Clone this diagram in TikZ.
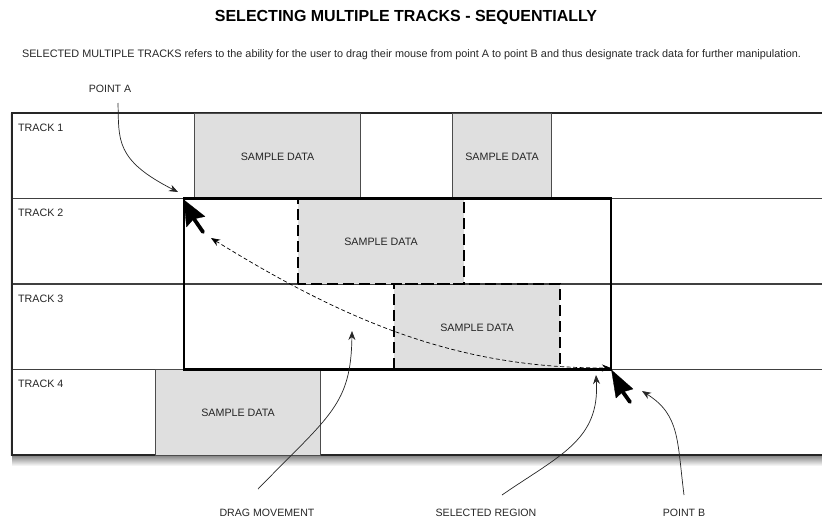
\documentclass[tikz,border=0pt]{standalone}
\usepackage{fontspec}
\setmainfont{Liberation Sans}
\usetikzlibrary{arrows.meta,shadings}
\definecolor{datagray}{HTML}{DFDFDF}
\tikzset{
  x=1pt,y=-1pt,
  lane/.style={draw=black!75,line width=0.9pt,minimum width=810pt,minimum height=85.5pt,anchor=north west,inner sep=0pt,outer sep=0pt,fill=white},
  tracklabel/.style={anchor=west,font=\fontsize{10.7}{12}\selectfont,inner sep=0pt,text=black!85},
  datablock/.style={anchor=center,font=\fontsize{10.7}{12}\selectfont,text=black!85,inner sep=0pt},
  caption/.style={font=\fontsize{10.6}{12}\selectfont,text=black!85,inner sep=0pt},
  solidblock/.style={fill=datagray,draw=black!70,line width=0.9pt},
  dashblock/.style={fill=datagray,draw=none},
  dashedge/.style={draw=black,line width=2.9pt,dash pattern=on 11pt off 5pt},
  callout/.style={draw=black!85,line width=0.7pt,-{Stealth[length=9pt,width=7pt]}},
  dragline/.style={draw=black,line width=0.7pt,dash pattern=on 4pt off 2.5pt,{Stealth[length=9pt,width=7pt]}-{Stealth[length=9pt,width=7pt]}},
  cursorshape/.style={fill=black,draw=black,line width=0.3pt,line join=round},
  cursorshaft/.style={draw=black,line width=3.8pt,line cap=round},
}
\begin{document}
\begin{tikzpicture}
\useasboundingbox (0,0) rectangle (822,523);
% shadow
\shade[top color=black!50,bottom color=white,draw=none] (12,455) rectangle (822,466);
\shade[left color=white,right color=black!20,draw=none] (9,113) rectangle (12,455);
% lanes
\node[lane] (t1) at (12,113) {};
\node[lane] (t2) at (12,198) {};
\node[lane] (t3) at (12,284) {};
\node[lane] (t4) at (12,369.5) {};
\draw[draw=black!85,line width=1.1pt] (822,113) -- (12,113) -- (12,455) -- (822,455);
\node[tracklabel] (l1) at (18,128) {TRACK 1};
\node[tracklabel] (l2) at (18,213) {TRACK 2};
\node[tracklabel] (l3) at (18,299) {TRACK 3};
\node[tracklabel] (l4) at (18,384) {TRACK 4};
% solid data
\draw[solidblock] (194.5,113) rectangle (360,198);
\node[datablock] (d1) at (277.5,157) {SAMPLE DATA};
\draw[solidblock] (452,113) rectangle (551.5,198);
\node[datablock] (d2) at (502,157) {SAMPLE DATA};
\draw[solidblock] (155,369.5) rectangle (320.5,455);
\node[datablock] (d5) at (238,413) {SAMPLE DATA};
% dashed data
\fill[dashblock] (298,198) rectangle (464,284);
\node[datablock] (d3) at (381,242) {SAMPLE DATA};
\fill[dashblock] (394,284) rectangle (560,369);
\node[datablock] (d4) at (477,328) {SAMPLE DATA};
\draw[black!75,line width=0.9pt] (298,284) -- (560,284);
\draw[dashedge] (298,284) -- (298,198);
\draw[dashedge] (464,202) -- (464,284) -- (298,284);
\draw[dashedge] (394,369) -- (394,284) -- (560,284) -- (560,369);
% selection
\draw[black,line width=2.8pt,line join=miter] (184,198.5) rectangle (611,369.5);
% cursors
\fill[cursorshape] (184,200) -- (186.5,227) -- (193.5,219) -- (205,216.5) -- cycle;
\coordinate (shaftA1) at (192,216);
\coordinate (shaftA2) at (203,232);
\draw[cursorshaft] (shaftA1) -- (shaftA2);
\fill[cursorshape] (611.5,370) -- (616,398) -- (622.5,392) -- (633,389) -- cycle;
\coordinate (shaftB1) at (620,388);
\coordinate (shaftB2) at (630,402);
\draw[cursorshaft] (shaftB1) -- (shaftB2);
% text
\node[font=\bfseries\fontsize{16}{19}\selectfont,inner sep=0pt] (title) at (406,17) {SELECTING MULTIPLE TRACKS - SEQUENTIALLY};
\node[font=\fontsize{10.85}{13}\selectfont,text=black!85,inner sep=0pt] (sub) at (411.5,54.5) {SELECTED MULTIPLE TRACKS refers to the ability for the user to drag their mouse from point A to point B and thus designate track data for further manipulation.};
\node[caption] (pa) at (110,89) {POINT A};
\node[caption] (dm) at (267,513) {DRAG MOVEMENT};
\node[caption] (sr) at (486,513) {SELECTED REGION};
\node[caption] (pb) at (684,513) {POINT B};
% connector ends
\coordinate (paS) at (118,103);
\coordinate (paE) at (178,192);
\coordinate (dmS) at (258,489);
\coordinate (dmE) at (352,331);
\coordinate (srS) at (502,495);
\coordinate (srE) at (596,375);
\coordinate (pbS) at (684,495);
\coordinate (pbE) at (642,391);
\coordinate (drS) at (611,368);
\coordinate (drE) at (211,238);
\draw[callout] (paS) .. controls (119,140) and (115,160) .. (paE);
\draw[callout] (dmS) .. controls (330,415) and (351,405) .. (dmE);
\draw[callout] (srS) .. controls (560,455) and (600,440) .. (srE);
\draw[callout] (pbS) .. controls (677,440) and (680,415) .. (pbE);
\draw[dragline] (drE) .. controls (361,331) and (470,368) .. (drS);
\end{tikzpicture}
\end{document}
